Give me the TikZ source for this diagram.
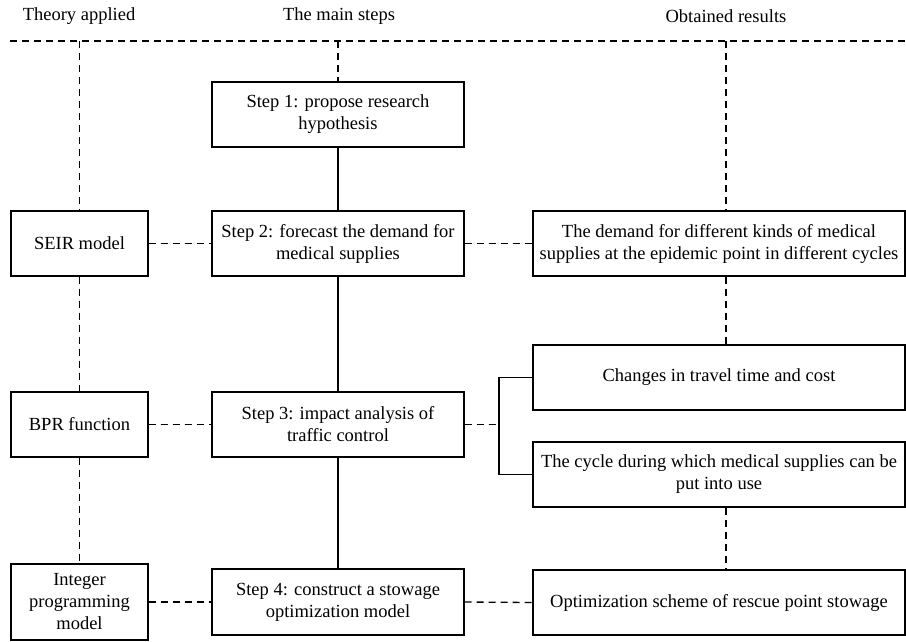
\documentclass[tikz,border=0pt]{standalone}
\usepackage{fontspec}
\setmainfont{Liberation Serif}
\begin{document}
\begin{tikzpicture}[x=1pt,y=-1pt,
  box/.style={draw, line width=1.3pt, align=center, inner sep=0pt, font=\fontsize{18.5}{22}\selectfont},
  leftbox/.style={box, minimum width=137pt, minimum height=65pt},
  stepbox/.style={box, minimum width=252pt, minimum height=65pt},
  resbox/.style={box, minimum width=372pt, minimum height=65pt},
  dashline/.style={line width=1.3pt, dash pattern=on 7pt off 5pt},
  solidline/.style={line width=1.3pt},
  head/.style={font=\fontsize{18.5}{22}\selectfont, inner sep=0pt}]
\useasboundingbox (0,0) rectangle (906,641);
% headers
\node[head] (h1) at (79,16) {Theory applied};
\node[head] (h2) at (339,16) {The main steps};
\node[head] (h3) at (726,16) {Obtained results};
% top dashed line
\coordinate (tl) at (10,41);
\coordinate (tr) at (906,41);
\coordinate (rx) at (726,41);
\draw[dashline] (tl) -- (tr);
% left column
\node[leftbox] (seir) at (79.5,243.5) {SEIR model};
\node[leftbox] (bpr) at (79.5,424.5) {BPR function};
\node[leftbox, minimum height=76pt] (int) at (79.5,602) {Integer\\programming\\model};
% middle column
\node[stepbox] (s1) at (338,114.5) {Step 1: propose research\\hypothesis};
\node[stepbox] (s2) at (338,243.5) {Step 2: forecast the demand for\\medical supplies};
\node[stepbox] (s3) at (338,424.5) {Step 3: impact analysis of\\traffic control};
\node[stepbox, minimum height=66pt] (s4) at (338,602) {Step 4: construct a stowage\\optimization model};
% right column
\node[resbox] (dem) at (719,243.5) {The demand for different kinds of medical\\supplies at the epidemic point in different cycles};
\node[resbox] (chg) at (719,377.5) {Changes in travel time and cost};
\node[resbox] (cyc) at (719,474.5) {The cycle during which medical supplies can be\\put into use};
\node[resbox] (opt) at (719,602.5) {Optimization scheme of rescue point stowage};
% vertical connectors
\draw[dashline] (seir.north |- tl) -- (seir.north);
\draw[dashline] (seir.south) -- (bpr.north);
\draw[dashline] (bpr.south) -- (int.north);
\draw[dashline] (s1.north |- tl) -- (s1.north);
\draw[solidline] (s1.south) -- (s2.north);
\draw[solidline] (s2.south) -- (s3.north);
\draw[solidline] (s3.south) -- (s4.north);
\draw[dashline] (rx) -- (rx |- dem.north);
\draw[dashline] (rx |- dem.south) -- (rx |- chg.north);
\draw[dashline] (rx |- cyc.south) -- (rx |- opt.north);
% horizontal connectors
\draw[dashline] (seir.east) -- (s2.west);
\draw[dashline] (s2.east) -- (dem.west);
\draw[dashline] (bpr.east) -- (s3.west);
\coordinate (bx) at (499,424.5);
\draw[dashline] (s3.east) -- (s3.east -| bx);
\draw[solidline] (chg.west) -- (chg.west -| bx) -- (cyc.west -| bx) -- (cyc.west);
\draw[dashline] (int.east) -- (s4.west);
\draw[dashline] (s4.east) -- (opt.west);
\end{tikzpicture}
\end{document}
